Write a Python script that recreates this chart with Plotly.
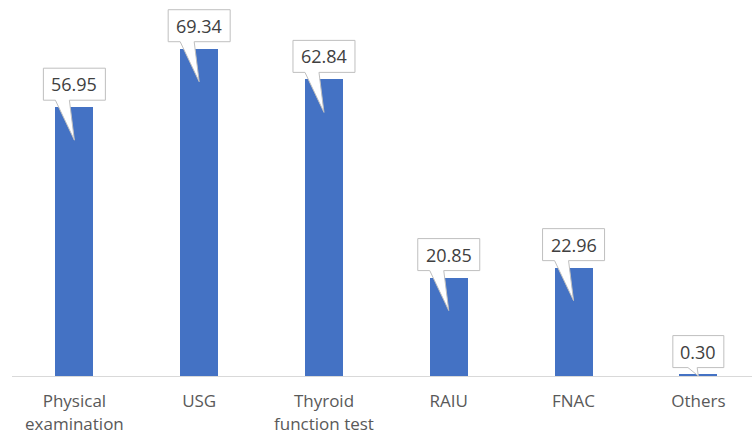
import plotly.graph_objects as go

# Diagnostic methods and share of use (%)
categories = ["Physical<br>examination", "USG", "Thyroid<br>function test", "RAIU", "FNAC", "Others"]
values = [56.95, 69.34, 62.84, 20.85, 22.96, 0.30]
labels = ["56.95", "69.34", "62.84", "20.85", "22.96", "0.30"]

W, H = 752, 434
M_L, M_R, M_T, M_B = 12, 0, 0, 58
PLOT_H = H - M_T - M_B
Y_MAX = 79.66
PX_PER_UNIT = PLOT_H / Y_MAX

BAR_COLOR = "#4472C4"
BORDER = "#BFBFBF"

fig = go.Figure(go.Bar(
    x=list(range(len(categories))),
    y=values,
    width=0.305,
    marker=dict(color=BAR_COLOR, line=dict(width=0)),
    hoverinfo="skip",
))

shapes = []
annotations = []
for i, (v, lab) in enumerate(zip(values, labels)):
    # callout box with a wedge pointing into the bar (pixel offsets from the bar top)
    half = 31 if len(lab) > 4 else 25.5
    bar_px = v * PX_PER_UNIT
    depth = min(33.0, bar_px)
    shrink = (33.0 - depth) / 33.0
    t0 = -19 + 9 * shrink
    t1 = -5 + 4 * shrink
    y_lo, y_hi = 7, 39
    path = (f"M {-half},{y_lo} L {t0},{y_lo} L 0,{-depth} L {t1},{y_lo} "
            f"L {half},{y_lo} L {half},{y_hi} L {-half},{y_hi} Z")
    shapes.append(dict(
        type="path", path=path,
        xref="x", yref="y", xsizemode="pixel", ysizemode="pixel",
        xanchor=i, yanchor=v,
        fillcolor="white", line=dict(color=BORDER, width=1),
        layer="above",
    ))
    annotations.append(dict(
        x=i, y=v, xref="x", yref="y", text=lab, showarrow=False,
        yshift=(y_lo + y_hi) / 2, xanchor="center", yanchor="middle",
        font=dict(family="Open Sans", size=18, color="#404040"),
    ))

fig.update_layout(
    width=W, height=H,
    margin=dict(l=M_L, r=M_R, t=M_T, b=M_B, autoexpand=False),
    paper_bgcolor="white", plot_bgcolor="white",
    showlegend=False,
    shapes=shapes,
    annotations=annotations,
    bargap=0,
)
fig.update_xaxes(
    range=[-0.5, 5.43],
    tickmode="array", tickvals=list(range(len(categories))), ticktext=categories,
    showgrid=False, zeroline=False, automargin=False,
    showline=True, linecolor="#D9D9D9", linewidth=1,
    ticks="", ticklabelstandoff=10,
    tickfont=dict(family="Open Sans", size=17, color="#595959"),
)
fig.update_yaxes(
    range=[0, Y_MAX], visible=False, showgrid=False, zeroline=False,
)

fig.write_html("out.html")
